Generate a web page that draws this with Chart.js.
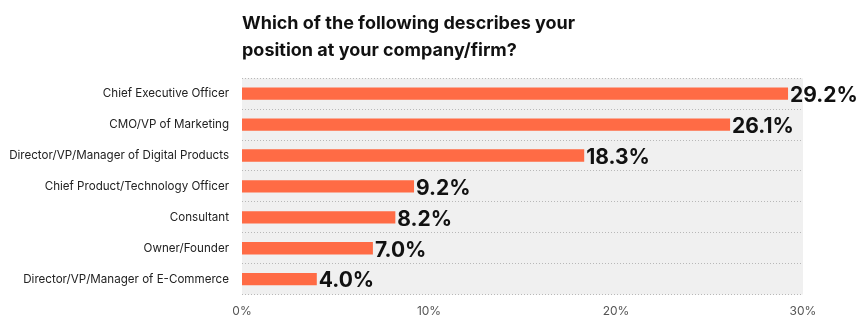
<!DOCTYPE html>
<html>
<head>
<meta charset="utf-8">
<script src="https://cdn.jsdelivr.net/npm/chart.js@4"></script>
<style>
  html,body{margin:0;padding:0;background:#fff;}
  #wrap{position:relative;width:860px;height:331px;}
</style>
</head>
<body>
<div id="wrap"><canvas id="chart"></canvas></div>
<script>
// Données
const titre = ['Which of the following describes your', 'position at your company/firm?'];
const postes = [
  'Chief Executive Officer',
  'CMO/VP of Marketing',
  'Director/VP/Manager of Digital Products',
  'Chief Product/Technology Officer',
  'Consultant',
  'Owner/Founder',
  'Director/VP/Manager of E-Commerce'
];
const parts = [29.2, 26.1, 18.3, 9.2, 8.2, 7.0, 4.0];
const ticksX = [0, 10, 20, 30];

const FONT = 'Inter, "Noto Sans", sans-serif';

// fond gris de la zone de tracé
const fondGris = {
  id:'fondGris',
  beforeDraw(chart){
    const {ctx, chartArea:a} = chart;
    ctx.save();
    ctx.fillStyle = '#f0f0f0';
    ctx.fillRect(a.left, a.top, a.right - a.left, a.bottom - a.top);
    ctx.restore();
  }
};

// étiquettes de valeur au bout des barres
const etiquettes = {
  id:'etiquettes',
  afterDatasetsDraw(chart){
    const {ctx} = chart;
    const meta = chart.getDatasetMeta(0);
    ctx.save();
    ctx.font = 'bold 21px ' + FONT;
    ctx.fillStyle = '#111';
    ctx.textBaseline = 'middle';
    ctx.textAlign = 'left';
    meta.data.forEach((bar, i) => {
      ctx.fillText(parts[i].toFixed(1) + '%', bar.x + 2, bar.y + 2);
    });
    ctx.restore();
  }
};

new Chart(document.getElementById('chart'), {
  type:'bar',
  data:{
    labels: postes,
    datasets:[{
      data: parts,
      backgroundColor:'#ff6b45',
      borderWidth:0,
      barPercentage:0.4,
      categoryPercentage:1
    }]
  },
  options:{
    indexAxis:'y',
    responsive:true,
    maintainAspectRatio:false,
    animation:false,
    layout:{ padding:{ top:11, right:57, bottom:2, left:0 } },
    plugins:{
      legend:{ display:false },
      tooltip:{ enabled:false },
      title:{
        display:true,
        text: titre,
        align:'start',
        fullSize:false,
        color:'#111',
        font:{ family:FONT, size:18, weight:'bold', lineHeight:1.45 },
        padding:{ top:0, bottom:15 }
      }
    },
    scales:{
      x:{
        min:0, max:30,
        afterBuildTicks(scale){ scale.ticks = ticksX.map(v => ({value:v})); },
        grid:{ display:false, drawTicks:false },
        border:{ display:false },
        ticks:{
          color:'#555',
          padding:10,
          font:{ family:FONT, size:12 },
          callback:(v) => v + '%'
        }
      },
      y:{
        afterFit(scale){ scale.width = 242; },
        grid:{ color:'#b8b8b8', drawTicks:false, offset:true },
        border:{ display:false, dash:[1,2] },
        ticks:{
          color:'#222',
          padding:13,
          font:{ family:FONT, size:11.6 }
        }
      }
    }
  },
  plugins:[fondGris, etiquettes]
});
</script>
</body>
</html>
